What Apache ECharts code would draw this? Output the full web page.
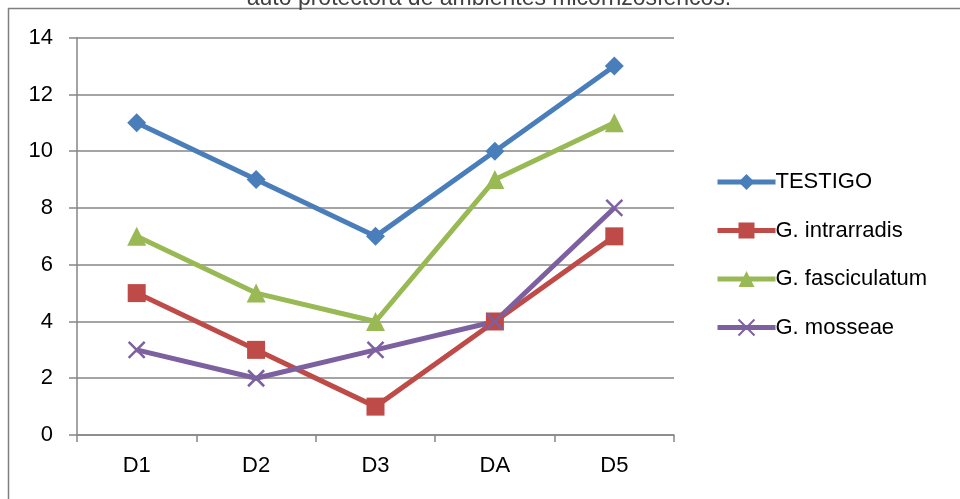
<!DOCTYPE html>
<html>
<head>
<meta charset="utf-8">
<script src="https://cdn.jsdelivr.net/npm/echarts@6/dist/echarts.min.js"></script>
<style>
  html, body { margin: 0; padding: 0; background: #fff; }
  #main { width: 960px; height: 499px; }
</style>
</head>
<body>
<div id="main"></div>
<script>
var categories = ['D1', 'D2', 'D3', 'DA', 'D5'];
var testigo = [11, 9, 7, 10, 13];
var intrarradis = [5, 3, 1, 4, 7];
var fasciculatum = [7, 5, 4, 9, 11];
var mosseae = [3, 2, 3, 4, 8];
var yTicks = [0, 2, 4, 6, 8, 10, 12, 14];

var myChart = echarts.init(document.getElementById('main'));
var font = 'Liberation Sans';

function serie(name, data, color, symbol, size) {
    return {
        name: name,
        type: 'line',
        data: data,
        symbol: symbol,
        symbolSize: size,
        showAllSymbol: true,
        lineStyle: { color: color, width: 5 },
        itemStyle: { color: color, borderColor: color, borderWidth: symbol.indexOf('path') === 0 ? 2.5 : 0 },
        emphasis: { disabled: true },
        animation: false
    };
}

option = {
    backgroundColor: '#fff',
    textStyle: { fontFamily: font },
    graphic: [
        {
            type: 'rect',
            shape: { x: 8.5, y: 8.5, width: 1200, height: 1200 },
            style: { fill: 'none', stroke: '#7f7f7f', lineWidth: 1.5 },
            silent: true
        },
        {
            type: 'text',
            x: 489, y: 10,
            style: {
                text: 'auto protectora de ambientes micorrizosfericos.',
                font: '23px "Liberation Sans"',
                fill: '#404040',
                align: 'center',
                verticalAlign: 'bottom'
            }
        }
    ],
    legend: {
        orient: 'vertical',
        left: 710,
        top: 166,
        itemWidth: 58,
        itemHeight: 20,
        itemGap: 26.5,
        lineStyle: { width: 5 },
        textStyle: { fontSize: 22, color: '#000', fontFamily: font, padding: [0, 0, 0, -5] },
        data: ['TESTIGO', 'G. intrarradis', 'G. fasciculatum', 'G. mosseae']
    },
    grid: { left: 77, top: 37.7, right: 286, bottom: 64 },
    xAxis: {
        type: 'category',
        data: categories,
        boundaryGap: true,
        axisLine: { lineStyle: { color: '#868686', width: 1.5 } },
        axisTick: { show: true, length: 7, inside: false, lineStyle: { color: '#868686', width: 1.5 } },
        axisLabel: { color: '#000', fontSize: 22, margin: 20, fontFamily: font }
    },
    yAxis: {
        type: 'value',
        min: 0,
        max: 14,
        interval: 2,
        axisLine: { show: true, lineStyle: { color: '#868686', width: 1.5 } },
        axisTick: { show: true, length: 8, lineStyle: { color: '#868686', width: 1.5 } },
        axisLabel: {
            color: '#000', fontSize: 22, margin: 24, fontFamily: font,
            formatter: function (v) { return yTicks.indexOf(v) >= 0 ? String(v) : ''; }
        },
        splitLine: { show: true, lineStyle: { color: '#868686', width: 1.5 } }
    },
    series: [
        serie('TESTIGO', testigo, '#4A7EBB', 'diamond', 19),
        serie('G. intrarradis', intrarradis, '#BE4B48', 'rect', 18),
        serie('G. fasciculatum', fasciculatum, '#98B954', 'triangle', 19),
        serie('G. mosseae', mosseae, '#7D60A0', 'path://M0,0L10,10M10,0L0,10', 16)
    ]
};

myChart.setOption(option);
</script>
</body>
</html>
